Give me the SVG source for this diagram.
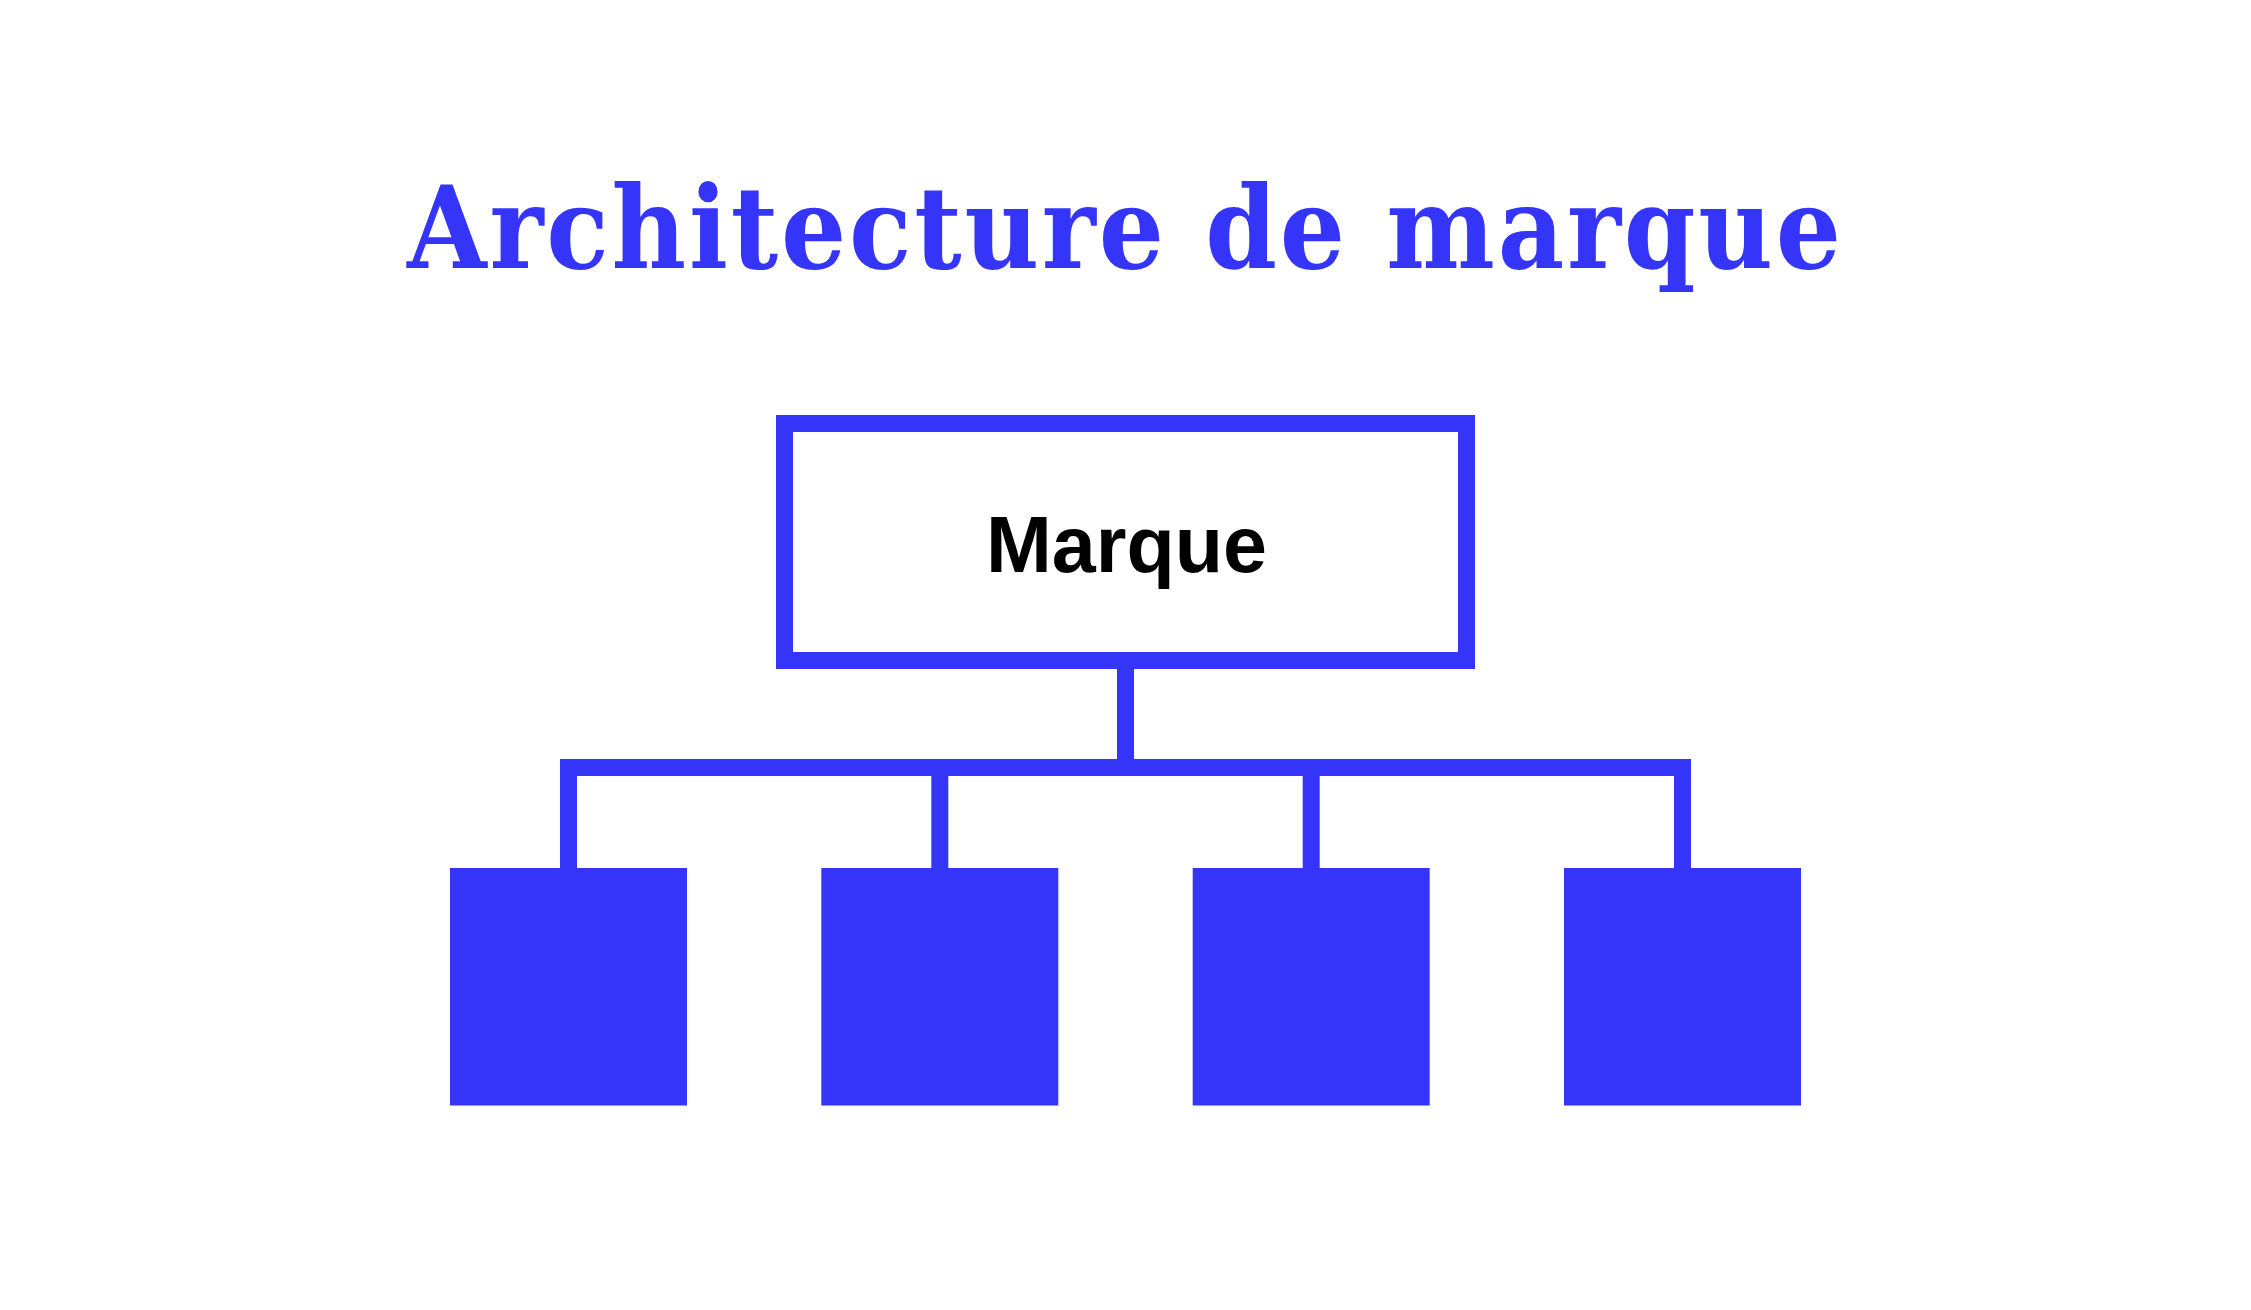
<svg xmlns="http://www.w3.org/2000/svg" width="2251" height="1310" viewBox="0 0 2251 1310">
<style>
.title{font-family:"DejaVu Serif Condensed","DejaVu Serif","Liberation Serif",serif;font-stretch:condensed;font-weight:bold;font-size:114px;fill:#3535fa}
.label{font-family:"Liberation Sans",Arial,sans-serif;font-weight:bold;font-size:79px;fill:#000}
.frame{fill:#fff;stroke:#3535fa;stroke-width:17}
.child{fill:#3535fa}
.conn{fill:none;stroke:#3535fa;stroke-width:17;stroke-linecap:butt;stroke-linejoin:miter}
</style>
<rect width="2251" height="1310" fill="#fff"/>
<text class="title" x="1124" y="268" text-anchor="middle" textLength="1434" lengthAdjust="spacing">Architecture de marque</text>
<g id="connectors">
<path class="conn" d="M1125.5 669 V767.5"/>
<path class="conn" d="M568.5 868 V767.5 H1682.5 V868"/>
<path class="conn" d="M939.8 767.5 V868"/>
<path class="conn" d="M1311.2 767.5 V868"/>
</g>
<g id="node-marque">
<rect class="frame" x="784.5" y="423.5" width="682" height="237"/>
<text class="label" x="1126.5" y="572" text-anchor="middle">Marque</text>
</g>
<g id="node-child-1"><rect class="child" x="450" y="868" width="237" height="237.5"/></g>
<g id="node-child-2"><rect class="child" x="821.3" y="868" width="237" height="237.5"/></g>
<g id="node-child-3"><rect class="child" x="1192.7" y="868" width="237" height="237.5"/></g>
<g id="node-child-4"><rect class="child" x="1564" y="868" width="237" height="237.5"/></g>
</svg>
